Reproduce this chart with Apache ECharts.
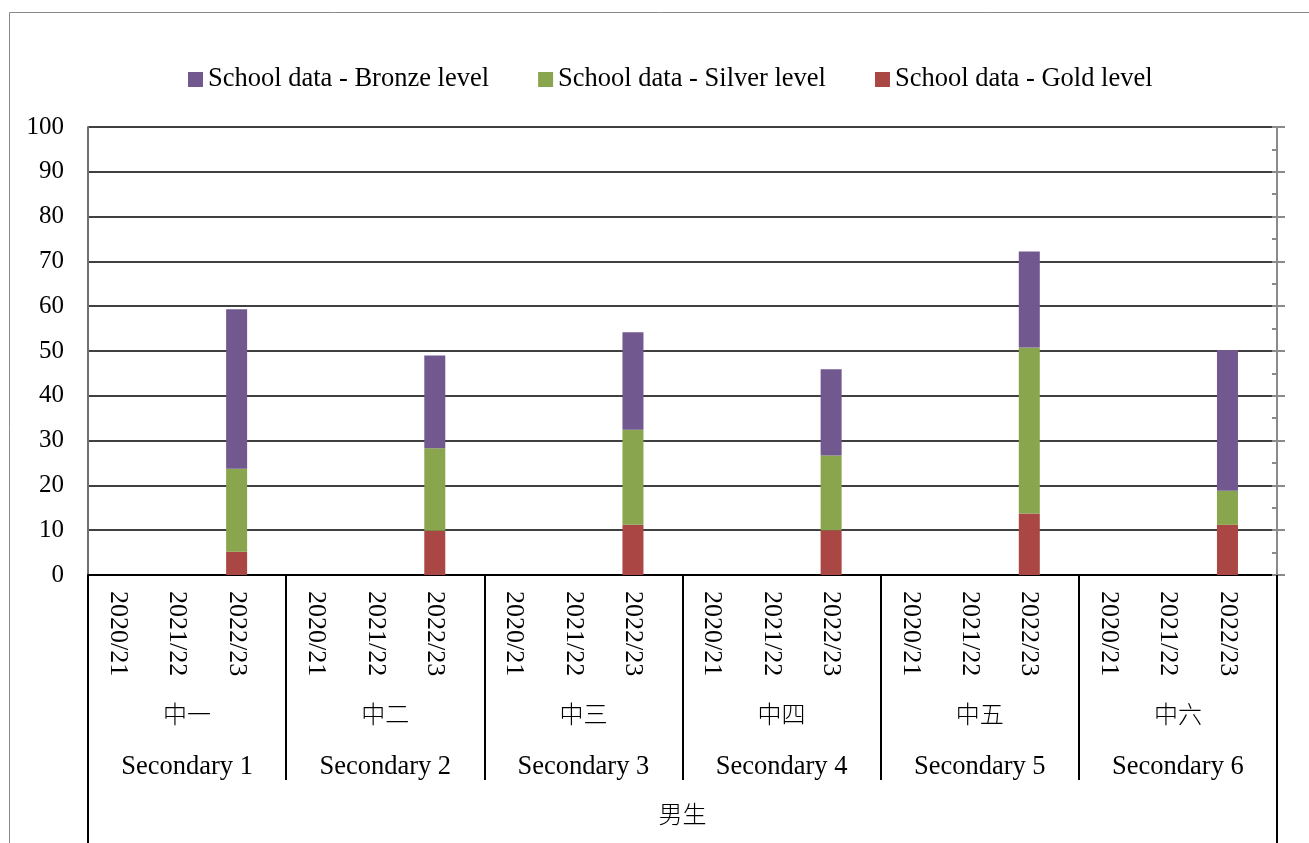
<!DOCTYPE html>
<html>
<head>
<meta charset="utf-8">
<title>School data</title>
<script src="https://cdn.jsdelivr.net/npm/echarts@6/dist/echarts.min.js"></script>
<style>
    html, body {
        margin: 0;
        padding: 0;
        background: #ffffff;
    }

    #chart {
        width: 1309px;
        height: 843px;
    }
</style>
</head>
<body>
<div id="chart"></div>
<script>
const groupsZh = ["中一", "中二", "中三", "中四", "中五", "中六"];
const groupsEn = ["Secondary 1", "Secondary 2", "Secondary 3", "Secondary 4", "Secondary 5", "Secondary 6"];
const genderLabel = ["男生"];
const years = ["2020/21", "2021/22", "2022/23"];

// one value per group and year, in the order of groupsEn x years
const goldLevel = [null, null, 5.2, null, null, 9.9, null, null, 11.2, null, null, 10.0, null, null, 13.7, null, null, 11.2];
const silverLevel = [null, null, 18.5, null, null, 18.4, null, null, 21.2, null, null, 16.7, null, null, 37.1, null, null, 7.6];
const bronzeLevel = [null, null, 35.6, null, null, 20.7, null, null, 21.8, null, null, 19.2, null, null, 21.4, null, null, 31.4];

const yTicks = [0, 10, 20, 30, 40, 50, 60, 70, 80, 90, 100];

const SERIF = "'Liberation Serif', 'Times New Roman', serif";
const CJK = "'Noto Sans CJK TC', 'Noto Sans CJK SC', sans-serif";

// Excel spaces each group into 10 narrow slots; the years sit in slots 1, 4 and 7
const SLOTS_PER_GROUP = 10;
const YEAR_SLOTS = [1, 4, 7];

function buildSlotLabels() {
    const labels = [];

    groupsEn.forEach(() => {
        for (let s = 0; s < SLOTS_PER_GROUP; s++) {
            const yearIndex = YEAR_SLOTS.indexOf(s);
            labels.push(yearIndex >= 0 ? years[yearIndex] : "");
        }
    });

    return labels;
}

function buildSlotValues(values) {
    const slots = [];

    groupsEn.forEach((group, g) => {
        for (let s = 0; s < SLOTS_PER_GROUP; s++) {
            const yearIndex = YEAR_SLOTS.indexOf(s);
            slots.push(yearIndex >= 0 ? values[g * years.length + yearIndex] : null);
        }
    });

    return slots;
}

function createBarSeries(name, values, color) {
    return {
        name: name,
        type: "bar",
        stack: "total",
        barWidth: 21,
        xAxisIndex: 0,
        yAxisIndex: 0,
        itemStyle: {
            color: color
        },
        data: buildSlotValues(values)
    };
}

// an extra bottom axis that only shows labels and long divider ticks
function createLevelAxis(data, margin, font, fontSize, tickLength) {
    return {
        type: "category",
        data: data,
        position: "bottom",
        axisLine: {
            show: true,
            lineStyle: { color: "rgba(0,0,0,0)", width: 0 }
        },
        axisTick: {
            show: tickLength > 0,
            length: tickLength,
            interval: 0,
            lineStyle: { color: "#000000", width: 2 }
        },
        axisLabel: {
            interval: 0,
            margin: margin,
            fontFamily: font,
            fontSize: fontSize,
            fontWeight: 300,
            color: "#000000"
        },
        splitLine: { show: false }
    };
}

const chart = echarts.init(document.getElementById("chart"));

chart.setOption({
    animation: false,
    backgroundColor: "#ffffff",
    graphic: [
        {
            type: "rect",
            shape: { x: 9.5, y: 12.5, width: 1400, height: 900 },
            style: { fill: "none", stroke: "#898989", lineWidth: 1 },
            silent: true
        }
    ],
    legend: {
        left: 188,
        top: 66,
        padding: 0,
        icon: "rect",
        itemWidth: 15,
        itemHeight: 15,
        itemGap: 49,
        data: [
            "School data - Bronze level",
            "School data - Silver level",
            "School data - Gold level"
        ],
        textStyle: {
            fontFamily: SERIF,
            fontSize: 26.5,
            color: "#000000"
        }
    },
    grid: {
        left: 88,
        right: 32,
        top: 127,
        bottom: 268,
        containLabel: false
    },
    xAxis: [
        {
            type: "category",
            data: buildSlotLabels(),
            boundaryGap: true,
            axisLine: {
                lineStyle: { color: "#000000", width: 2 }
            },
            axisTick: {
                inside: true,
                length: 5,
                interval: 0,
                alignWithLabel: true,
                lineStyle: { color: "#000000", width: 2 }
            },
            axisLabel: {
                interval: 0,
                rotate: -90,
                margin: 16,
                fontFamily: SERIF,
                fontSize: 26,
                color: "#000000"
            }
        },
        createLevelAxis(groupsZh, 127, CJK, 24, 205),
        createLevelAxis(groupsEn, 179, SERIF, 26.5, 0),
        createLevelAxis(genderLabel, 227, CJK, 24, 270)
    ],
    yAxis: [
        {
            type: "value",
            min: yTicks[0],
            max: yTicks[yTicks.length - 1],
            interval: yTicks[1] - yTicks[0],
            axisLine: {
                show: true,
                lineStyle: { color: "#6f6f6f", width: 2 }
            },
            axisTick: { show: false },
            axisLabel: {
                margin: 24,
                fontFamily: SERIF,
                fontSize: 25,
                color: "#000000"
            },
            splitLine: {
                lineStyle: { color: "#404040", width: 2 }
            }
        },
        {
            type: "value",
            position: "right",
            min: yTicks[0],
            max: yTicks[yTicks.length - 1],
            interval: 10,
            axisLine: {
                show: true,
                lineStyle: { color: "#8a8a8a", width: 2 }
            },
            axisTick: {
                show: true,
                length: 8,
                lineStyle: { color: "#8a8a8a", width: 2 }
            },
            axisLabel: { show: false },
            splitLine: { show: false }
        },
        {
            type: "value",
            position: "right",
            min: yTicks[0],
            max: yTicks[yTicks.length - 1],
            interval: 5,
            axisLine: { show: false },
            axisTick: {
                show: true,
                inside: true,
                length: 5,
                lineStyle: { color: "#8a8a8a", width: 2 }
            },
            axisLabel: { show: false },
            splitLine: { show: false }
        }
    ],
    series: [
        createBarSeries("School data - Gold level", goldLevel, "#AA4643"),
        createBarSeries("School data - Silver level", silverLevel, "#89A54E"),
        createBarSeries("School data - Bronze level", bronzeLevel, "#71588F")
    ]
});
</script>
</body>
</html>
